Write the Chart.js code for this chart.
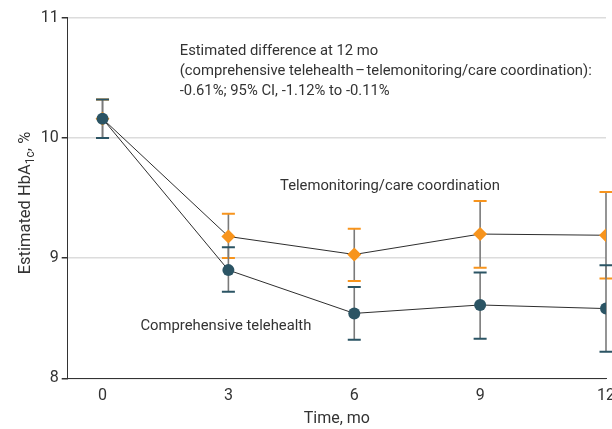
<!DOCTYPE html>
<html>
<head>
<meta charset="utf-8">
<script src="https://cdn.jsdelivr.net/npm/chart.js@4.4.1/dist/chart.umd.min.js"></script>
<style>
  html, body { margin: 0; padding: 0; background: #fff; overflow: hidden; }
  #sim_container { width: 630px; height: 429px; }
</style>
</head>
<body>
<div id="sim_container"><canvas id="grafica" width="630" height="429"></canvas></div>
<script>
/* Datos */
const meses = [0, 3, 6, 9, 12];
const ticksX = [0, 3, 6, 9, 12];
const ticksY = [8, 9, 10, 11];

// Comprehensive telehealth (círculos)
const integralMedia = [10.16, 8.90, 8.54, 8.61, 8.58];
const integralBajo = [10.00, 8.72, 8.32, 8.33, 8.22];
const integralAlto = [10.32, 9.09, 8.76, 8.88, 8.94];

// Telemonitoring/care coordination (rombos)
const teleMedia = [10.16, 9.18, 9.03, 9.20, 9.19];
const teleBajo = [10.00, 9.00, 8.81, 8.92, 8.83];
const teleAlto = [10.32, 9.37, 9.245, 9.475, 9.55];

// Textos sobre la gráfica (posición de la línea base en unidades de los ejes)
const notas = [
    { lineas: ['Estimated difference at 12 mo',
               '(comprehensive telehealth\u200a\u2013\u200atelemonitoring/care coordination):',
               '-0.61%; 95% CI, -1.12% to -0.11%'], x: 1.84, y: 10.687, align: 'left' },
    { lineas: ['Telemonitoring/care coordination'], x: 6.85, y: 9.567, align: 'center' },
    { lineas: ['Comprehensive telehealth'], x: 2.94, y: 8.40, align: 'center' }
];

const colorOscuro = '#2b5464';
const colorNaranja = '#f7941d';
const colorTexto = '#333333';
const fuente = "Roboto, 'Noto Sans', sans-serif";

function puntos(valores) {
    return meses.map((m, i) => ({ x: m, y: valores[i] }));
}

// Barras de error: tallo gris y remates del color de la serie
const barrasError = {
    id: 'barrasError',
    beforeDatasetsDraw(chart) {
        const ctx = chart.ctx;
        const sx = chart.scales.x;
        const sy = chart.scales.y;
        ctx.save();
        for (let d = chart.data.datasets.length - 1; d >= 0; d--) {
            const ds = chart.data.datasets[d];
            for (let i = 0; i < ds.data.length; i++) {
                const px = sx.getPixelForValue(ds.data[i].x);
                const arriba = sy.getPixelForValue(ds.alto[i]);
                const abajo = sy.getPixelForValue(ds.bajo[i]);
                ctx.strokeStyle = '#7a7a7a';
                ctx.lineWidth = 1.6;
                ctx.beginPath();
                ctx.moveTo(px, arriba);
                ctx.lineTo(px, abajo);
                ctx.stroke();
                ctx.strokeStyle = ds.colorRemate;
                ctx.lineWidth = 2;
                ctx.beginPath();
                ctx.moveTo(px - 6.5, arriba);
                ctx.lineTo(px + 6.5, arriba);
                ctx.moveTo(px - 6.5, abajo);
                ctx.lineTo(px + 6.5, abajo);
                ctx.stroke();
            }
        }
        ctx.restore();
    }
};

// Anotaciones de texto y título del eje y con subíndice
const textos = {
    id: 'textos',
    afterDatasetsDraw(chart) {
        const ctx = chart.ctx;
        const sx = chart.scales.x;
        const sy = chart.scales.y;
        ctx.save();
        ctx.fillStyle = colorTexto;
        ctx.font = '14.8px ' + fuente;
        ctx.textBaseline = 'alphabetic';
        notas.forEach(n => {
            ctx.textAlign = n.align;
            const px = sx.getPixelForValue(n.x);
            const py = sy.getPixelForValue(n.y);
            n.lineas.forEach((linea, j) => {
                ctx.fillText(linea, px, py + j * 20);
            });
        });

        // título del eje y: Estimated HbA1c, %
        const partes = [
            { t: 'Estimated HbA', f: '16.5px ' + fuente, dy: 0 },
            { t: '1c', f: '12px ' + fuente, dy: 4 },
            { t: ', %', f: '16.5px ' + fuente, dy: 0 }
        ];
        let ancho = 0;
        partes.forEach(p => { ctx.font = p.f; p.w = ctx.measureText(p.t).width; ancho += p.w; });
        ctx.translate(30, 203);
        ctx.rotate(-Math.PI / 2);
        ctx.textAlign = 'left';
        ctx.textBaseline = 'alphabetic';
        let pos = -ancho / 2;
        partes.forEach(p => {
            ctx.font = p.f;
            ctx.fillText(p.t, pos, p.dy);
            pos += p.w;
        });
        ctx.restore();
    }
};

function crearGrafica() {
    const ctx = document.getElementById('grafica').getContext('2d');
    return new Chart(ctx, {
        type: 'line',
        data: {
            datasets: [{
                label: 'Comprehensive telehealth',
                data: puntos(integralMedia),
                bajo: integralBajo,
                alto: integralAlto,
                colorRemate: colorOscuro,
                borderColor: '#2e2e2e',
                borderWidth: 1,
                backgroundColor: colorOscuro,
                pointBackgroundColor: colorOscuro,
                pointBorderColor: colorOscuro,
                pointStyle: 'circle',
                pointRadius: 6,
                pointBorderWidth: 0,
                tension: 0
            }, {
                label: 'Telemonitoring/care coordination',
                data: puntos(teleMedia),
                bajo: teleBajo,
                alto: teleAlto,
                colorRemate: colorNaranja,
                borderColor: '#2e2e2e',
                borderWidth: 1,
                backgroundColor: colorNaranja,
                pointBackgroundColor: colorNaranja,
                pointBorderColor: colorNaranja,
                pointStyle: 'rectRot',
                pointRadius: 7,
                pointBorderWidth: 0,
                tension: 0
            }]
        },
        options: {
            responsive: false,
            animation: false,
            events: [],
            layout: { padding: { left: 0, right: 24, top: 17.7, bottom: 0 } },
            plugins: {
                legend: { display: false },
                tooltip: { enabled: false }
            },
            scales: {
                x: {
                    type: 'linear',
                    min: -0.83,
                    max: 12,
                    afterBuildTicks(scale) {
                        scale.ticks = ticksX.map(v => ({ value: v }));
                    },
                    afterFit(scale) { scale.height = 50.7; },
                    border: { color: colorTexto, width: 1 },
                    grid: { display: false, drawOnChartArea: false, tickLength: 6, drawTicks: true },
                    ticks: {
                        color: colorTexto,
                        padding: 2,
                        font: { family: fuente, size: 16 }
                    },
                    title: {
                        display: true,
                        text: 'Time, mo',
                        color: colorTexto,
                        padding: 0,
                        font: { family: fuente, size: 16 }
                    }
                },
                y: {
                    min: 8,
                    max: 11,
                    afterBuildTicks(scale) {
                        scale.ticks = ticksY.map(v => ({ value: v }));
                    },
                    afterFit(scale) { scale.width = 67.7; },
                    border: { color: colorTexto, width: 1 },
                    grid: {
                        color: '#dcdcdc',
                        lineWidth: 1.5,
                        tickColor: colorTexto,
                        tickLength: 6
                    },
                    ticks: {
                        color: colorTexto,
                        padding: 3,
                        font: { family: fuente, size: 16 }
                    }
                }
            }
        },
        plugins: [barrasError, textos]
    });
}

let grafica = crearGrafica();
</script>
</body>
</html>
